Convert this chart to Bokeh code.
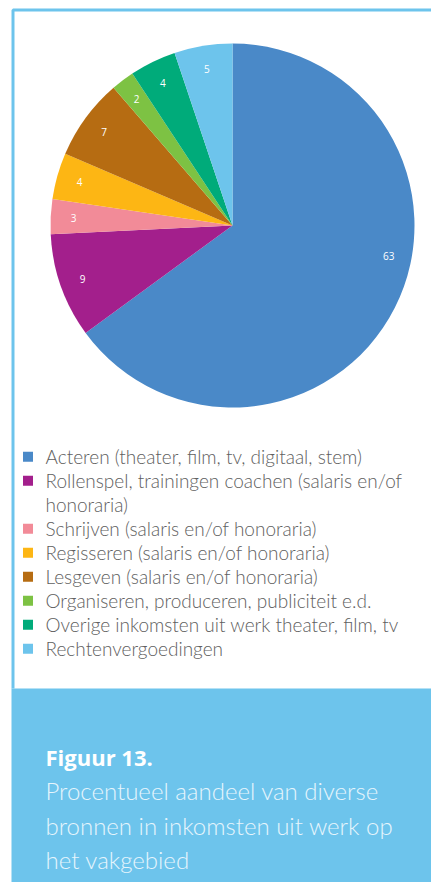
import numpy as np
from bokeh.plotting import figure
from bokeh.models import ColumnDataSource, Range1d
from bokeh.embed import file_html
from bokeh.resources import INLINE
from bokeh.core.properties import value

# ---------------- data ----------------
categories = [
    "Acteren (theater, film, tv, digitaal, stem)",
    "Rollenspel, trainingen coachen (salaris en/of\nhonoraria)",
    "Schrijven (salaris en/of honoraria)",
    "Regisseren (salaris en/of honoraria)",
    "Lesgeven (salaris en/of honoraria)",
    "Organiseren, produceren, publiciteit e.d.",
    "Overige inkomsten uit werk theater, film, tv",
    "Rechtenvergoedingen",
]
values = [63, 9, 3, 4, 7, 2, 4, 5]
colors = ["#4A89C8", "#A31F8C", "#F28B98", "#FDB614",
          "#B66C12", "#7DC243", "#00AB7A", "#6DC4EC"]
caption_title = "Figuur 13."
caption_lines = ["Procentueel aandeel van diverse",
                 "bronnen in inkomsten uit werk op",
                 "het vakgebied"]

# ---------------- layout helpers (picture px -> data) ----------------
W, H = 431, 882
def sx(x):
    return x
def sy(y):
    return H - y

p = figure(width=W, height=H, x_range=Range1d(0, W), y_range=Range1d(0, H),
           output_backend="svg", toolbar_location=None, min_border=0,
           x_axis_location=None, y_axis_location=None)
p.grid.visible = False
p.outline_line_color = None
p.background_fill_color = "white"
p.border_fill_color = "white"

ACCENT = "#6DC4EC"

# frame (top + left border) and caption box
p.line(x=[sx(12.5), sx(12.5), sx(440)], y=[sy(688), sy(9.5), sy(9.5)],
       line_color=ACCENT, line_width=3)
p.quad(left=sx(11), right=sx(440), top=sy(688), bottom=sy(895),
       fill_color=ACCENT, line_color=None)

# ---------------- pie ----------------
cx, cy, R = sx(232), sy(225), 182
vals = np.array(values, dtype=float)
frac = vals / vals.sum()
cum = np.concatenate([[0.0], np.cumsum(frac)])
start = np.pi / 2 - cum[1:] * 2 * np.pi
end = np.pi / 2 - cum[:-1] * 2 * np.pi
src = ColumnDataSource(dict(start=start, end=end, color=colors))
p.wedge(x=cx, y=cy, radius=R, start_angle="start", end_angle="end",
        fill_color="color", line_color=None, source=src)

# slice labels
label_shift_deg = [16, 0, 0, 0, 0, 0, 0, 0]
mid = (start + end) / 2 + np.radians(label_shift_deg)
lr = 159
lsrc = ColumnDataSource(dict(x=cx + lr * np.cos(mid), y=cy + lr * np.sin(mid),
                             t=[str(v) for v in values]))
p.text(x="x", y="y", text="t", source=lsrc, text_color="white",
       text_font=value("Open Sans"), text_font_size="10px",
       text_align="center", text_baseline="middle")

# ---------------- legend ----------------
lines_x, lines_y, lines_t = [], [], []
sq_x, sq_y = [], []
row = 0
for cat in categories:
    parts = cat.split("\n")
    sq_y.append(sy(456.3 + 24 * row))
    sq_x.append(sx(27.5))
    for part in parts:
        lines_x.append(sx(45))
        lines_y.append(sy(456.3 + 24 * row))
        lines_t.append(part)
        row += 1
p.rect(x=sq_x, y=sq_y, width=10, height=10, fill_color=colors, line_color=None)
p.text(x=lines_x, y=lines_y, text=lines_t, text_color="#606060",
       text_font=value("Lato Light, Lato"), text_font_size="19px",
       text_align="left", text_baseline="middle")

# ---------------- caption ----------------
p.text(x=[sx(45)], y=[sy(756)], text=[caption_title], text_color="white",
       text_font=value("Open Sans"), text_font_style="bold", text_font_size="22px",
       text_align="left", text_baseline="alphabetic")
p.text(x=[sx(45)] * len(caption_lines),
       y=[sy(790 + 34.5 * i) for i in range(len(caption_lines))],
       text=caption_lines, text_color="#E6F5FC",
       text_font=value("Lato Light, Lato"), text_font_size="24px",
       text_align="left", text_baseline="alphabetic")

open("out.html", "w").write(file_html(p, INLINE))
